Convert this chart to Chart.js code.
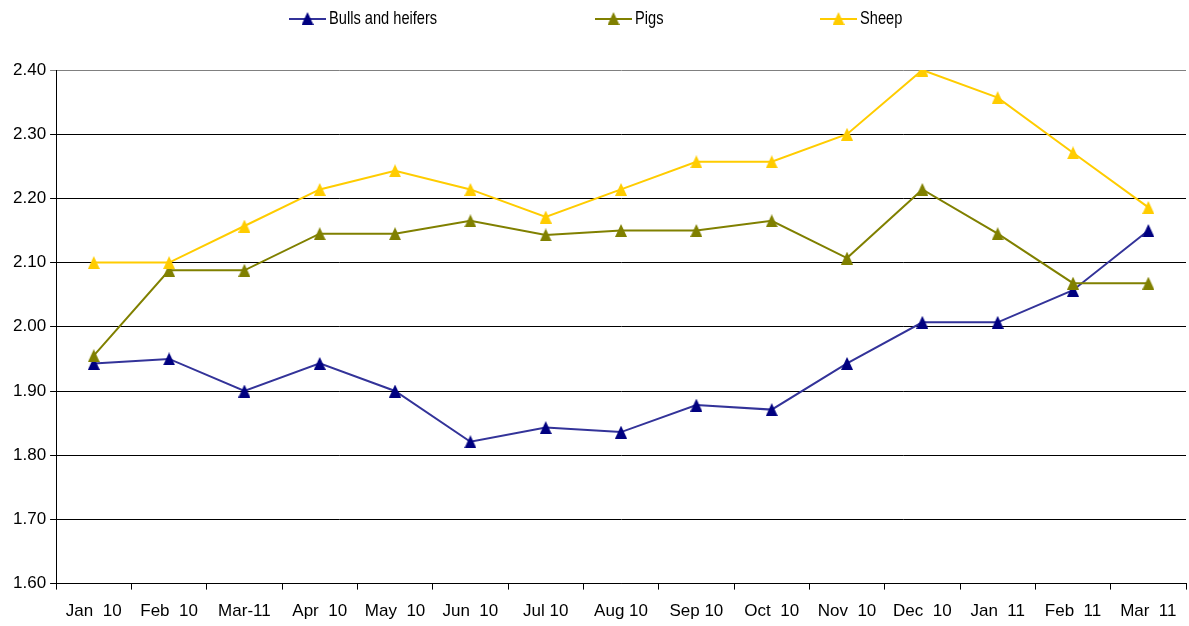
<!DOCTYPE html>
<html>
<head>
<meta charset="utf-8">
<script src="https://cdn.jsdelivr.net/npm/chart.js@4"></script>
<style>
  html, body { margin: 0; padding: 0; background: #fff; }
  #wrap { width: 1189px; height: 626px; }
</style>
</head>
<body>
<div id="wrap"><canvas id="chart"></canvas></div>
<script>
'use strict';

const months = ['Jan  10', 'Feb  10', 'Mar-11', 'Apr  10', 'May  10', 'Jun  10', 'Jul 10', 'Aug 10',
  'Sep 10', 'Oct  10', 'Nov  10', 'Dec  10', 'Jan  11', 'Feb  11', 'Mar  11'];
const seriesNames = ['Bulls and heifers', 'Pigs', 'Sheep'];
const bulls = [1.943, 1.95, 1.90, 1.943, 1.90, 1.821, 1.843, 1.836, 1.878, 1.871, 1.943, 2.007, 2.007, 2.057, 2.15];
const pigs = [1.955, 2.088, 2.088, 2.145, 2.145, 2.165, 2.143, 2.15, 2.15, 2.165, 2.107, 2.214, 2.145, 2.068, 2.068];
const sheep = [2.10, 2.10, 2.157, 2.214, 2.243, 2.214, 2.171, 2.214, 2.257, 2.257, 2.30, 2.40, 2.357, 2.271, 2.186];
const yMin = 1.6;
const yMax = 2.4;
const yStep = 0.1;

const lineColors = ['#333399', '#808000', '#FFCC00'];
const markColors = ['#000080', '#808000', '#FFCC00'];

const FONT = "'Liberation Sans', Arial, sans-serif";
const tickSize = 17;

function triangle(color) {
  const c = document.createElement('canvas');
  c.width = 12;
  c.height = 13;
  const g = c.getContext('2d');
  g.fillStyle = color;
  g.beginPath();
  g.moveTo(6, 0);
  g.lineTo(12, 13);
  g.lineTo(0, 13);
  g.closePath();
  g.fill();
  return c;
}
const marks = markColors.map(triangle);

function series(i, values) {
  return {
    label: seriesNames[i],
    data: values,
    borderColor: lineColors[i],
    backgroundColor: markColors[i],
    borderWidth: 2,
    pointStyle: marks[i],
    pointRadius: 6,
    pointHoverRadius: 6,
    tension: 0,
    order: 3 - i,
  };
}

// legend drawn by hand: Excel spreads the three entries far apart,
// text squeezed a bit to look like the narrow face of the original
const legendX = [289, 595, 820];
const wideLegend = {
  id: 'wideLegend',
  afterDraw(chart) {
    const ctx = chart.ctx;
    const y = 19;
    ctx.save();
    ctx.font = '19px ' + FONT;
    ctx.textBaseline = 'middle';
    ctx.textAlign = 'left';
    seriesNames.forEach((name, i) => {
      const x = legendX[i];
      ctx.strokeStyle = lineColors[i];
      ctx.lineWidth = 2;
      ctx.beginPath();
      ctx.moveTo(x, y);
      ctx.lineTo(x + 37, y);
      ctx.stroke();
      ctx.drawImage(marks[i], x + 12.5, y - 7);
      ctx.fillStyle = '#000';
      ctx.save();
      ctx.translate(x + 40, y);
      ctx.scale(0.77, 1);
      ctx.fillText(name, 0, 0);
      ctx.restore();
    });
    ctx.restore();
  },
};

const config = {
  type: 'line',
  data: {
    labels: months,
    datasets: [series(0, bulls), series(1, pigs), series(2, sheep)],
  },
  options: {
    responsive: true,
    maintainAspectRatio: false,
    animation: false,
    layout: { autoPadding: false, padding: { top: 70, right: 3, left: 9, bottom: -8 } },
    plugins: {
      tooltip: { enabled: false },
      legend: { display: false },
    },
    scales: {
      x: {
        offset: true,
        afterFit: s => { s.paddingRight = 0; s.paddingLeft = 0; },
        grid: {
          offset: true,
          drawOnChartArea: false,
          drawTicks: true,
          tickLength: 6,
          color: '#000',
        },
        border: { color: '#000', width: 1 },
        ticks: {
          color: '#000',
          font: { family: FONT, size: tickSize },
          maxRotation: 0,
          autoSkip: false,
          padding: 12,
        },
      },
      y: {
        min: yMin,
        max: yMax,
        grid: {
          color: ctx => (ctx.index === ctx.chart.scales.y.ticks.length - 1 ? '#808080' : '#000'),
          tickLength: 6,
          lineWidth: 1,
        },
        border: { color: '#000', width: 1 },
        ticks: {
          stepSize: yStep,
          color: '#000',
          font: { family: FONT, size: tickSize },
          padding: 4,
          callback: v => v.toFixed(2),
        },
      },
    },
  },
  plugins: [wideLegend],
};

new Chart(document.getElementById('chart'), config);
</script>
</body>
</html>
